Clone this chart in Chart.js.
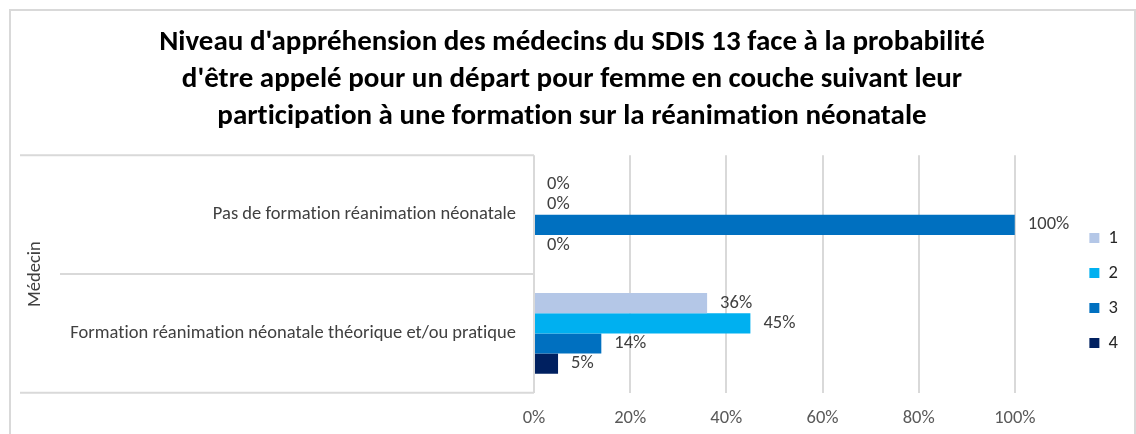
<!DOCTYPE html>
<html>
<head>
<meta charset="utf-8">
<script src="https://cdn.jsdelivr.net/npm/chart.js@4.4.1/dist/chart.umd.min.js"></script>
<style>
  html, body { margin: 0; padding: 0; background: #ffffff; }
  #wrap { width: 1136px; height: 434px; }
</style>
</head>
<body>
<div id="wrap"><canvas id="chart" width="1136" height="434"></canvas></div>
<script>
// data
const categories = ["Pas de formation réanimation néonatale", "Formation réanimation néonatale théorique et/ou pratique"];
const groupLabel = "Médecin";
const seriesNames = ["1", "2", "3", "4"];
const level1 = [0, 36];
const level2 = [0, 45];
const level3 = [100, 14];
const level4 = [0, 5];
const xTicks = [0, 20, 40, 60, 80, 100];

const colors = ["#B4C7E7", "#00B0F0", "#0070C0", "#002060"];
const bodyFont = "Carlito, 'Liberation Sans', sans-serif";
const bodySize = 18.5;

const values = [level1, level2, level3, level4];

const ctx = document.getElementById("chart").getContext("2d");

// outer frame + table lines on the left, like the excel multi-level axis
const framePlugin =
{
    id: 'frame_and_table',
    afterLayout: (chart) =>
    {
        // legend sits further right and lower than chart.js puts it
        const lg = chart.legend;
        lg.left += 58; lg.right += 58;
        lg.top += 69; lg.bottom += 69;
        // title is centred on the whole frame, not on the padded area
        const tb = chart.titleBlock;
        tb.left += 32; tb.right += 32;
    },
    beforeDraw: (chart) =>
    {
        const c = chart.ctx;
        c.letterSpacing = "0.01px";
        c.save();
        c.strokeStyle = "#D9D9D9";
        c.lineWidth = 2;
        c.strokeRect(10, 10, 1125, 460);
        c.restore();
    },
    afterDraw: (chart) =>
    {
        const c = chart.ctx;
        const area = chart.chartArea;
        const y = chart.scales.y;
        const mid = (y.getPixelForValue(0) + y.getPixelForValue(1)) / 2;
        c.save();
        c.strokeStyle = "#D9D9D9";
        c.lineWidth = 2;
        c.beginPath();
        c.moveTo(20, area.top); c.lineTo(area.left, area.top);
        c.moveTo(60, mid); c.lineTo(area.left, mid);
        c.moveTo(20, area.bottom); c.lineTo(area.left, area.bottom);
        c.stroke();

        c.translate(35, (area.top + area.bottom) / 2);
        c.rotate(-Math.PI / 2);
        c.fillStyle = "#404040";
        c.font = bodySize + "px " + bodyFont;
        c.textAlign = "center";
        c.textBaseline = "middle";
        c.fillText(groupLabel, 0, 0);
        c.restore();
    }
};

// value labels at the end of each bar
const labelPlugin =
{
    id: 'bar_value_labels',
    afterDatasetsDraw: (chart) =>
    {
        const c = chart.ctx;
        c.save();
        c.fillStyle = "#404040";
        c.font = bodySize + "px " + bodyFont;
        c.textAlign = "left";
        c.textBaseline = "middle";
        chart.data.datasets.forEach((ds, di) =>
        {
            const meta = chart.getDatasetMeta(di);
            meta.data.forEach((bar, i) =>
            {
                c.fillText(ds.data[i] + "%", bar.x + 13, bar.y);
            });
        });
        c.restore();
    }
};

const data =
{
    labels: categories,
    datasets: seriesNames.map((name, i) => ({
        label: name,
        data: values[i],
        backgroundColor: colors[i],
        borderWidth: 0
    }))
};

const config =
{
    type: 'bar',
    data: data,
    plugins: [framePlugin, labelPlugin],
    options:
    {
        indexAxis: 'y',
        responsive: false,
        animation: false,
        categoryPercentage: 0.68,
        barPercentage: 1.0,
        layout:
        {
            padding: { left: 10, right: 66, top: 0, bottom: -9 }
        },
        plugins:
        {
            title:
            {
                display: true,
                text: [
                    "Niveau d'appréhension des médecins du SDIS 13 face à la probabilité",
                    "d'être appelé pour un départ pour femme en couche suivant leur",
                    "participation à une formation sur la réanimation néonatale"
                ],
                color: '#000000',
                font: { family: bodyFont, size: 29, weight: 'bold', lineHeight: 1.28 },
                padding: { top: 24, bottom: 20 }
            },
            legend:
            {
                position: 'right',
                labels:
                {
                    boxWidth: 10,
                    boxHeight: 10,
                    padding: 16.5,
                    color: '#262626',
                    font: { family: bodyFont, size: bodySize }
                }
            },
            tooltip: { enabled: false }
        },
        scales:
        {
            x:
            {
                min: 0,
                max: 100,
                afterBuildTicks: (scale) =>
                {
                    scale.ticks = xTicks.map(v => ({ value: v }));
                },
                ticks:
                {
                    color: '#595959',
                    font: { family: bodyFont, size: bodySize },
                    padding: 14,
                    callback: (value) => value + "%"
                },
                grid:
                {
                    color: '#D9D9D9',
                    lineWidth: 2,
                    drawTicks: false
                },
                border: { display: false }
            },
            y:
            {
                afterFit: (scale) =>
                {
                    scale.width = 524;
                },
                ticks:
                {
                    color: '#404040',
                    font: { family: bodyFont, size: bodySize },
                    padding: 18
                },
                grid: { display: false, drawTicks: false },
                border: { display: false }
            }
        }
    }
};

const myChart = new Chart(ctx, config);
</script>
</body>
</html>
